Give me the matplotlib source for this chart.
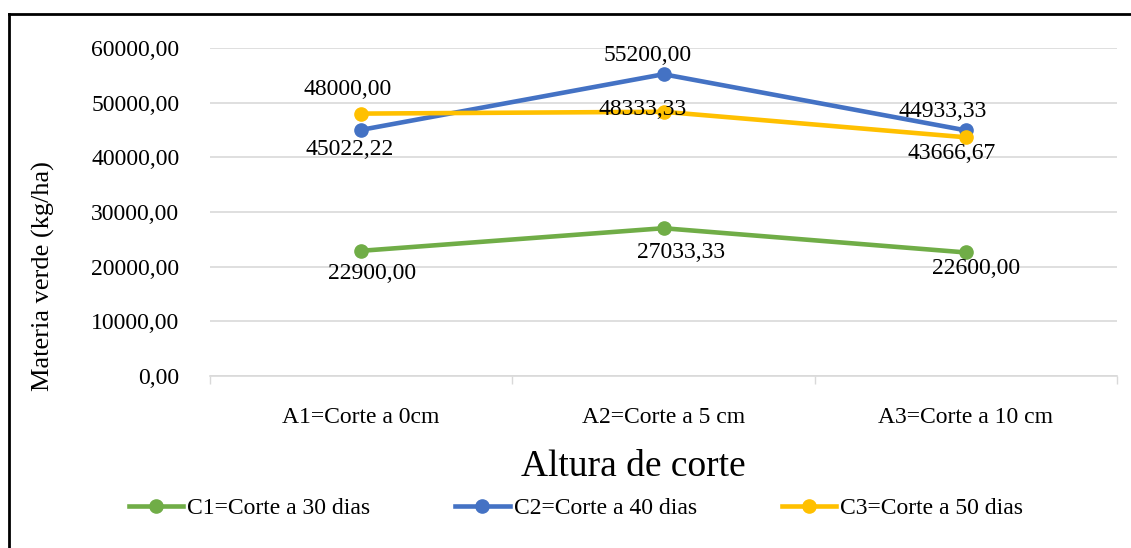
import matplotlib.pyplot as plt
from matplotlib.lines import Line2D

plt.rcParams['font.family'] = ['Liberation Serif', 'DejaVu Serif']

categorias = ['A1=Corte a 0cm', 'A2=Corte a 5 cm', 'A3=Corte a 10 cm']
series = ['C1=Corte a 30 dias', 'C2=Corte a 40 dias', 'C3=Corte a 50 dias']
c1 = [22900.00, 27033.33, 22600.00]
c2 = [45022.22, 55200.00, 44933.33]
c3 = [48000.00, 48333.33, 43666.67]
y_ticks = [0, 10000, 20000, 30000, 40000, 50000, 60000]

colores = ['#70AD47', '#4472C4', '#FFC000']
# label offsets in pixels (dx, dy) for every point of each series
offsets = [
    [(11, -23), (18, -24), (10, -16)],
    [(-12, -20), (-16, 19), (-23, 19)],
    [(-14, 24), (-21, 2), (-14, -16)],
]

W, H = 1131, 548
fig = plt.figure(figsize=(W / 100, H / 100), dpi=100)
ax = fig.add_axes([210 / W, 1 - 376 / H, 907 / W, 328 / H])

x = list(range(len(categorias)))
for vals, col, offs in zip([c1, c2, c3], colores, offsets):
    ax.plot(x, vals, color=col, lw=3.3, marker='o', ms=9.5, zorder=3,
            solid_capstyle='round')
    for xi, v, (dx, dy) in zip(x, vals, offs):
        txt = f'{v:.2f}'.replace('.', ',')
        ax.annotate(txt, (xi, v), xytext=(dx, dy), textcoords='offset pixels',
                    ha='center', va='center', fontsize=17, color='black',
                    zorder=4)

ax.set_xlim(-0.5, 2.5)
ax.set_ylim(0, 60000)
ax.set_yticks(y_ticks)
ax.set_yticklabels([f'{t:.2f}'.replace('.', ',') for t in y_ticks])
ax.set_xticks(x)
ax.set_xticklabels(categorias)
ax.set_xticks([-0.5, 0.5, 1.5, 2.5], minor=True)
ax.tick_params(axis='x', which='major', length=0, pad=22, labelsize=17)
ax.tick_params(axis='x', which='minor', length=6, width=1, color='#d9d9d9')
ax.tick_params(axis='y', length=0, pad=22, labelsize=17)

ax.grid(axis='y', color='#d9d9d9', lw=1.2)
ax.set_axisbelow(True)
for s in ['top', 'right', 'left']:
    ax.spines[s].set_visible(False)
ax.spines['bottom'].set_color('#d9d9d9')
ax.spines['bottom'].set_linewidth(1.2)

fig.text(633 / W, 1 - 467 / H, 'Altura de corte', ha='center', va='center',
         fontsize=27)
fig.text(43 / W, 1 - 276 / H, 'Materia verde (kg/ha)', ha='center',
         va='center', rotation=90, fontsize=19)

handles = [Line2D([], [], color=c, lw=3.3, marker='o', ms=9.5) for c in colores]
fig.legend(handles, series, loc='center', bbox_to_anchor=(576 / W, 1 - 508 / H),
           ncol=3, frameon=False, fontsize=17, handlelength=2.3,
           handletextpad=0.17, columnspacing=3.6, borderpad=0)

# frame lines on the top and left edges
fig.add_artist(Line2D([8.7 / W, 1], [1 - 13.7 / H] * 2, color='black', lw=2,
                      transform=fig.transFigure))
fig.add_artist(Line2D([8.7 / W] * 2, [0, 1 - 13.7 / H], color='black', lw=2,
                      transform=fig.transFigure))

fig.savefig('out.png', dpi=100)
